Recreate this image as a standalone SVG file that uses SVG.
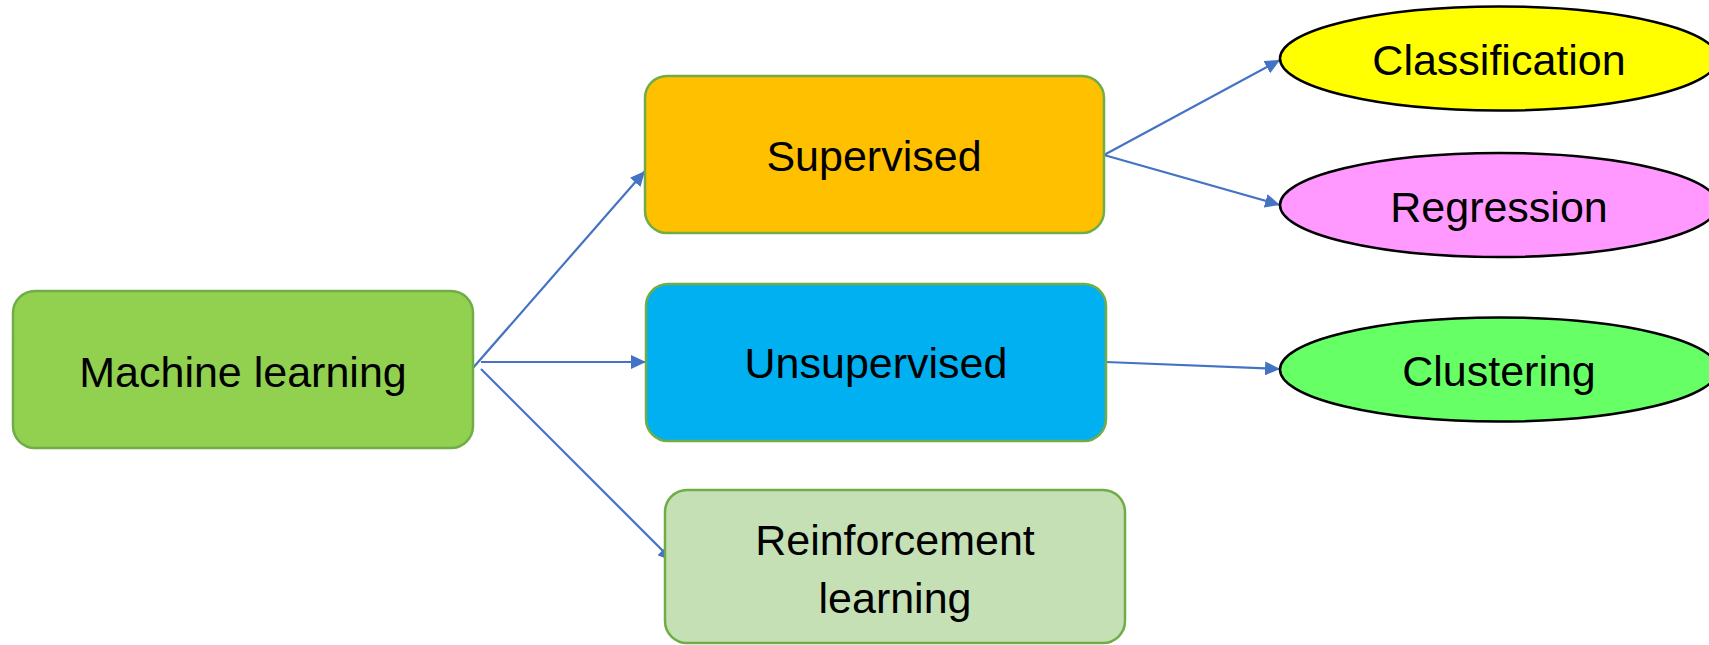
<svg xmlns="http://www.w3.org/2000/svg" width="1709" height="645" viewBox="0 0 1709 645">
<style>
.box{stroke:#70AD47;stroke-width:2.5}
.ell{stroke:#000;stroke-width:2.5}
.lbl{font-family:"Liberation Sans",Arial,sans-serif;font-size:43px;fill:#000;text-anchor:middle}
.conn{stroke:#4472C4;stroke-width:2.2;fill:none;marker-end:url(#ah)}
</style>
<defs>
<marker id="ah" markerUnits="userSpaceOnUse" markerWidth="16" markerHeight="14" refX="15" refY="7" orient="auto">
<path d="M0,0 L15,7 L0,14 z" fill="#4472C4"/>
</marker>
</defs>
<rect width="1709" height="645" fill="#fff"/>
<g id="connectors">
<line class="conn" x1="472" y1="369" x2="645" y2="171"/>
<line class="conn" x1="481" y1="362" x2="646" y2="362"/>
<line class="conn" x1="481" y1="369" x2="673" y2="561"/>
<line class="conn" x1="1104" y1="155" x2="1280" y2="60"/>
<line class="conn" x1="1104" y1="155" x2="1280" y2="205"/>
<line class="conn" x1="1106" y1="362" x2="1280" y2="369"/>
</g>
<g id="machine-learning">
<rect class="box" x="13" y="291" width="460" height="157" rx="22" fill="#92D050"/>
<text class="lbl" x="243" y="387">Machine learning</text>
</g>
<g id="supervised">
<rect class="box" x="645" y="76" width="459" height="157" rx="22" fill="#FFC000"/>
<text class="lbl" x="874" y="171">Supervised</text>
</g>
<g id="unsupervised">
<rect class="box" x="646" y="284" width="460" height="157" rx="22" fill="#00B0F0"/>
<text class="lbl" x="876" y="378">Unsupervised</text>
</g>
<g id="reinforcement">
<rect class="box" x="665" y="490" width="460" height="153" rx="22" fill="#C5E0B4"/>
<text class="lbl" x="895" y="555">Reinforcement</text>
<text class="lbl" x="895" y="613">learning</text>
</g>
<g id="classification">
<ellipse class="ell" cx="1499" cy="58.5" rx="219" ry="52" fill="#FFFF00"/>
<text class="lbl" x="1499" y="75">Classification</text>
</g>
<g id="regression">
<ellipse class="ell" cx="1499" cy="205" rx="219" ry="52" fill="#FF99FF"/>
<text class="lbl" x="1499" y="222">Regression</text>
</g>
<g id="clustering">
<ellipse class="ell" cx="1499" cy="369.5" rx="219" ry="52" fill="#66FF66"/>
<text class="lbl" x="1499" y="386">Clustering</text>
</g>
</svg>
